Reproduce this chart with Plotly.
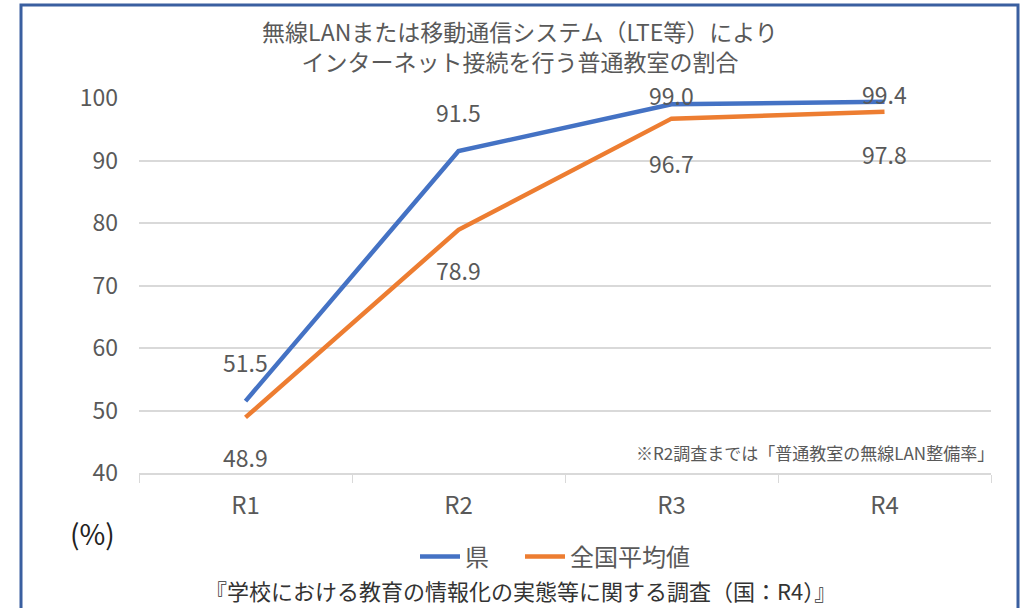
import plotly.graph_objects as go

categories = ["R1", "R2", "R3", "R4"]
pref_values = [51.5, 91.5, 99.0, 99.4]
national_values = [48.9, 78.9, 96.7, 97.8]
series_names = ["県", "全国平均値"]
y_ticks = [40, 50, 60, 70, 80, 90, 100]

title_text = "無線LANまたは移動通信システム（LTE等）により<br>インターネット接続を行う普通教室の割合"
note_text = "※R2調査までは「普通教室の無線LAN整備率」"
source_text = "『学校における教育の情報化の実態等に関する調査（国：R4）』"
unit_text = "(%)"

# label offsets (pixels) for data labels
pref_shift = [39, 39, 9, 8]
nat_shift = [-40, -40, -44, -42]

BLUE = "#4472C4"
ORANGE = "#ED7D31"
GRAY = "#595959"
GRID = "#d9d9d9"
FONT = "Noto Sans CJK JP"

fig = go.Figure()
fig.add_trace(go.Scatter(x=categories, y=pref_values, mode="lines", name=series_names[0],
                         line=dict(color=BLUE, width=4.5), legend="legend"))
fig.add_trace(go.Scatter(x=categories, y=national_values, mode="lines", name=series_names[1],
                         line=dict(color=ORANGE, width=4.5), legend="legend2"))

annotations = []
for c, v, s in zip(categories, pref_values, pref_shift):
    annotations.append(dict(x=c, y=v, xref="x", yref="y", text=f"{v:.1f}", showarrow=False,
                            yshift=s, font=dict(size=23, color=GRAY, family=FONT)))
for c, v, s in zip(categories, national_values, nat_shift):
    annotations.append(dict(x=c, y=v, xref="x", yref="y", text=f"{v:.1f}", showarrow=False,
                            yshift=s, font=dict(size=23, color=GRAY, family=FONT)))

W, H = 1030, 608
L, R, T, B = 139, 39, 98, 135
pw, ph = W - L - R, H - T - B

def px(x):
    return (x - L) / pw

def py(y):
    return (H - B - y) / ph

annotations.append(dict(xref="paper", yref="paper", x=px(996), y=py(452), xanchor="right", yanchor="middle",
                        text=note_text, showarrow=False, font=dict(size=17, color=GRAY, family=FONT)))
annotations.append(dict(xref="paper", yref="paper", x=px(92), y=py(533), xanchor="center", yanchor="middle",
                        text=unit_text, showarrow=False, font=dict(size=28, color="#222222", family=FONT)))
annotations.append(dict(xref="paper", yref="paper", x=px(520), y=py(590), xanchor="center", yanchor="middle",
                        text=source_text, showarrow=False, font=dict(size=22, color="#333333", family=FONT)))

legend_style = dict(orientation="h", xanchor="left", y=py(557), yanchor="middle",
                    font=dict(size=24, color=GRAY, family=FONT), itemwidth=40,
                    bgcolor="rgba(0,0,0,0)")

fig.update_layout(
    width=W, height=H,
    margin=dict(l=L, r=R, t=T, b=B),
    paper_bgcolor="white", plot_bgcolor="white",
    title=dict(text=title_text, xref="container", x=520 / W, xanchor="center",
               yref="container", y=(H - 41) / H, yanchor="middle",
               font=dict(size=23, color=GRAY, family=FONT)),
    showlegend=True,
    legend=dict(x=px(415), **legend_style),
    legend2=dict(x=px(520), **legend_style),
    xaxis=dict(type="category", range=[-0.5, 3.5], showgrid=False, showline=True, linecolor=GRID,
               linewidth=1.5, ticks="outside", tickson="boundaries", ticklen=8, tickcolor=GRID,
               tickfont=dict(size=24, color=GRAY, family=FONT), ticklabelstandoff=10, zeroline=False),
    yaxis=dict(range=[40, 100], tickvals=y_ticks, showgrid=True, gridcolor=GRID, gridwidth=1.5,
               showline=False, zeroline=False, ticks="", ticklabelstandoff=20,
               tickfont=dict(size=23, color=GRAY, family=FONT)),
    annotations=annotations,
    shapes=[dict(type="rect", xref="paper", yref="paper", x0=px(21), x1=px(1018), y0=py(5), y1=py(640),
                 line=dict(color="#3A5FA0", width=3), fillcolor="rgba(0,0,0,0)", layer="above")],
)

fig.write_html("out.html", config={"displayModeBar": False},
               post_script="document.body.style.margin='0';document.body.style.padding='0';"
                           "document.body.style.overflow='hidden';")
